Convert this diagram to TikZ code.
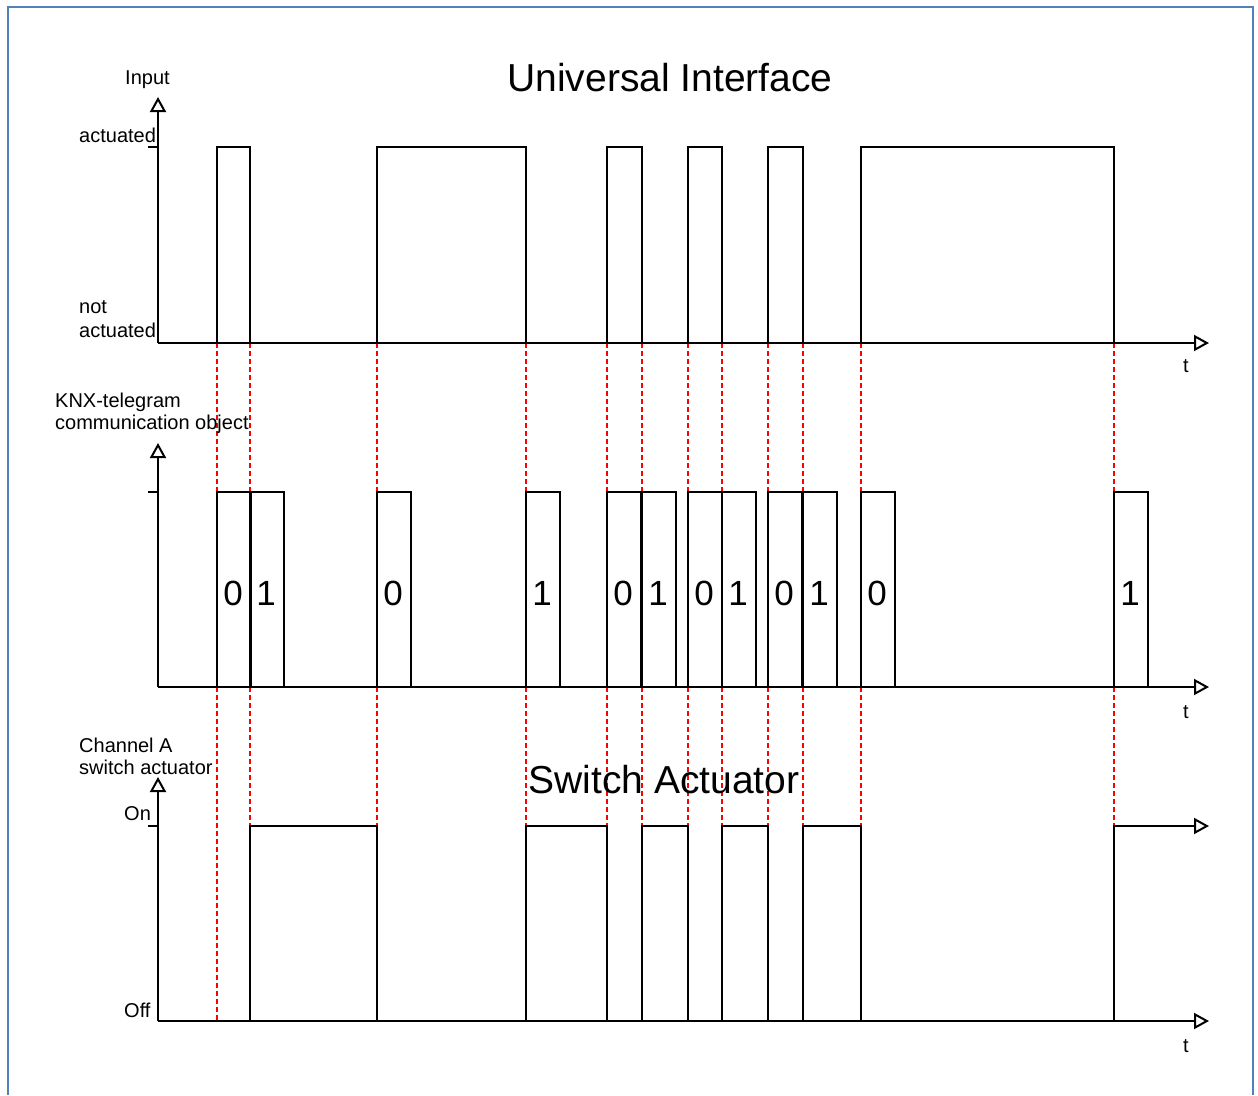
\documentclass[tikz,border=0pt]{standalone}
\usepackage{fontspec}
\setmainfont{Liberation Sans}
\usetikzlibrary{arrows.meta}
\definecolor{frameblue}{RGB}{79,129,189}
\begin{document}
\begin{tikzpicture}[x=1pt,y=-1pt,
  sig/.style={line width=2pt, line join=miter},
  axis/.style={line width=2pt, -{Triangle[open,length=15pt,width=16pt,fill=white]}},
  guide/.style={red, line width=1.6pt, dash pattern=on 5pt off 3pt},
  lbl/.style={font=\fontsize{20}{22}\selectfont, inner sep=0pt},
  big/.style={font=\fontsize{39}{44}\selectfont, inner sep=0pt},
  digit/.style={font=\fontsize{35}{40}\selectfont, inner sep=0pt}]
\useasboundingbox[fill=white] (0,0) rectangle (1258,1095);
% frame
\draw[frameblue, line width=2pt] (8,1095) -- (8,7) -- (1253,7) -- (1253,1095);
% guides
\foreach \x in {217,250,377,526,607,642,688,722,768,803,861,1114}
  \draw[guide] (\x,343) -- (\x,1021);
% ---------- top panel ----------
\draw[sig] (158,343) -- (217,343) -- (217,147) -- (250,147) -- (250,343)
  -- (377,343) -- (377,147) -- (526,147) -- (526,343)
  -- (607,343) -- (607,147) -- (642,147) -- (642,343)
  -- (688,343) -- (688,147) -- (722,147) -- (722,343)
  -- (768,343) -- (768,147) -- (803,147) -- (803,343)
  -- (861,343) -- (861,147) -- (1114,147) -- (1114,343);
\draw[line width=2pt] (148,147) -- (158,147);
\coordinate (o1) at (158,343);
\coordinate (y1) at (158,97);
\coordinate (x1) at (1209,343);
\draw[axis] (o1) -- (y1);
\draw[axis] (o1) -- (x1);
\node[big, anchor=base] (title) at (670,91) {Universal Interface};
\node[lbl, anchor=base west] (input) at (125,84) {Input};
\node[lbl, anchor=base west] (act) at (79,142) {actuated};
\node[lbl, anchor=base west] (not) at (79,313) {not};
\node[lbl, anchor=base west] (nact) at (79,337) {actuated};
\node[lbl, anchor=base] (t1) at (1186,372) {t};
% ---------- middle panel ----------
\foreach \x/\d [count=\i] in {217/0,250/1,377/0,526/1,607/0,642/1,688/0,722/1,768/0,803/1,861/0,1114/1}{
  \draw[sig] (\x,687) rectangle ({\x+34},492);
  \node[digit, anchor=base] (d\i) at ({\x+16},605) {\d};
}
\draw[line width=2pt] (148,492) -- (158,492);
\coordinate (o2) at (158,687);
\coordinate (y2) at (158,443);
\coordinate (x2) at (1209,687);
\draw[axis] (o2) -- (y2);
\draw[axis] (o2) -- (x2);
\node[lbl, anchor=base west] (knx) at (55,407) {KNX-telegram};
\node[lbl, anchor=base west] (comm) at (55,429) {communication object};
\node[lbl, anchor=base] (t2) at (1186,718) {t};
% ---------- bottom panel ----------
\coordinate (o3) at (158,1021);
\coordinate (y3) at (158,777);
\coordinate (x3) at (1209,1021);
\coordinate (out) at (1209,826);
\draw[axis] (o3) -- (y3);
\draw[axis] (o3) -- (x3);
\draw[sig, axis] (250,1021) -- (250,826) -- (377,826) -- (377,1021)
  -- (526,1021) -- (526,826) -- (607,826) -- (607,1021)
  -- (642,1021) -- (642,826) -- (688,826) -- (688,1021)
  -- (722,1021) -- (722,826) -- (768,826) -- (768,1021)
  -- (803,1021) -- (803,826) -- (861,826) -- (861,1021)
  -- (1114,1021) -- (1114,826) -- (out);
\draw[line width=2pt] (148,826) -- (158,826);
\node[big, anchor=base] (sa) at (664,793) {Switch Actuator};
\node[lbl, anchor=base west] (chan) at (79,752) {Channel A};
\node[lbl, anchor=base west] (swa) at (79,774) {switch actuator};
\node[lbl, anchor=base west] (on) at (124,820) {On};
\node[lbl, anchor=base west] (off) at (124,1017) {Off};
\node[lbl, anchor=base] (t3) at (1186,1052) {t};
\end{tikzpicture}
\end{document}
